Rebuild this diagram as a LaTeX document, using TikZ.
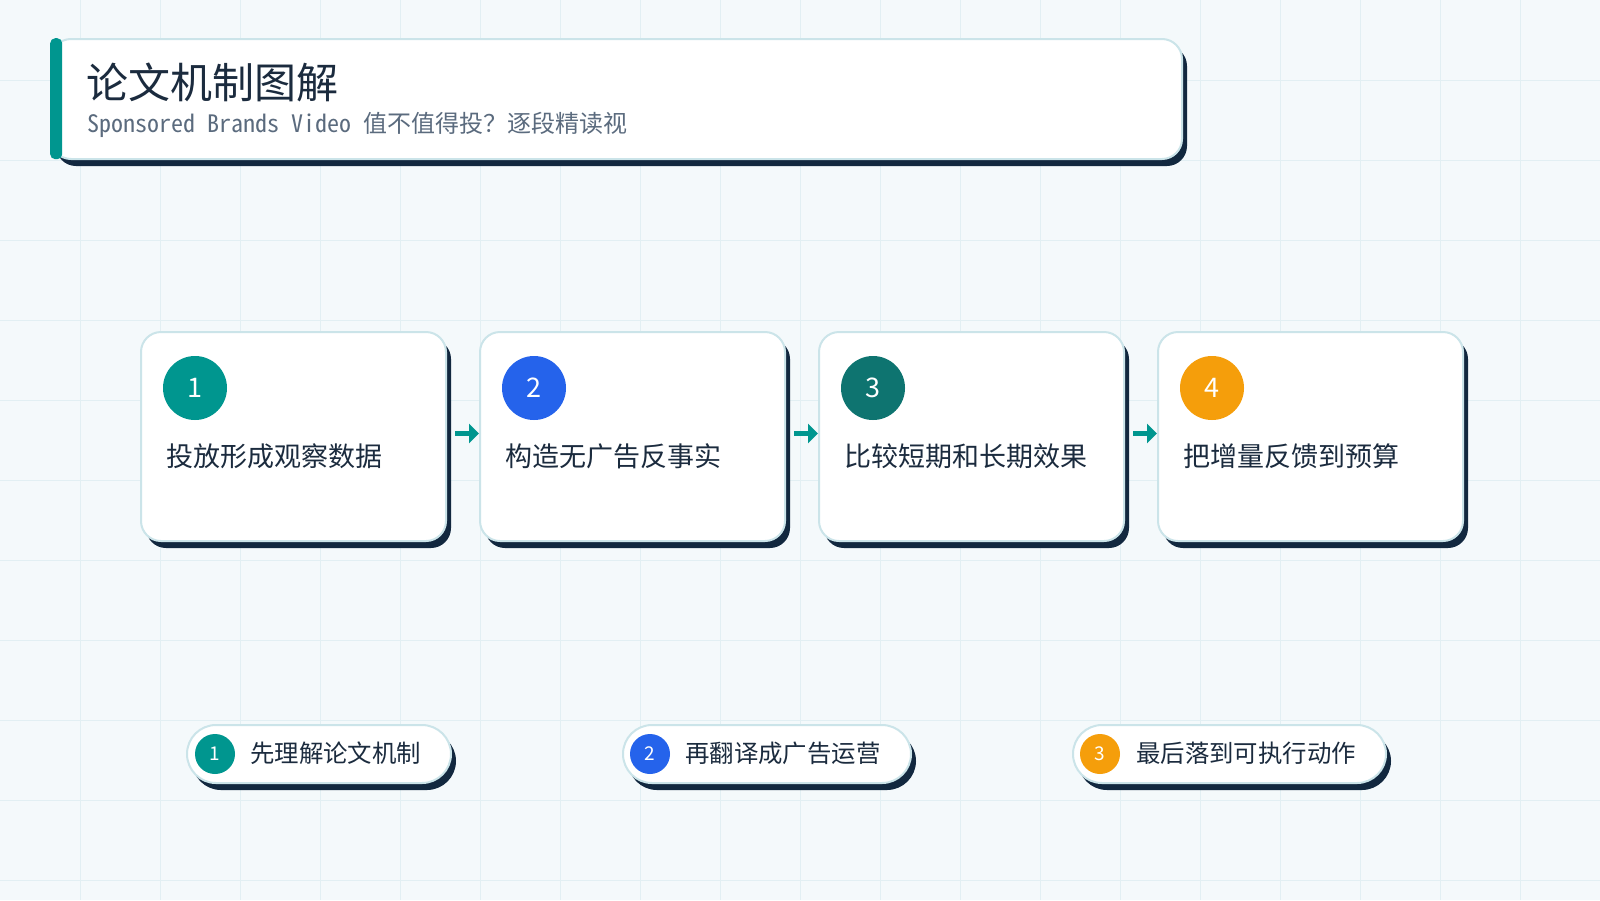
\documentclass[tikz,border=0pt]{standalone}
\usepackage{fontspec}
\setmainfont{Noto Sans CJK SC}
\newfontfamily\cjk{Noto Sans CJK SC}
\newfontfamily\cjkmono{Noto Sans Mono CJK SC}
\usetikzlibrary{shadows,arrows.meta}
\definecolor{bgc}{HTML}{F4F9FB}
\definecolor{gridc}{HTML}{E2EFF3}
\definecolor{navy}{HTML}{12283F}
\definecolor{edge}{HTML}{CBE4E9}
\definecolor{ink}{HTML}{1B2B3E}
\definecolor{subc}{HTML}{5B6B7E}
\definecolor{tealc}{HTML}{00968F}
\definecolor{bluec}{HTML}{2563EB}
\definecolor{dtealc}{HTML}{0E7470}
\definecolor{orangec}{HTML}{F59E0B}
\tikzset{
  shadowed/.style={drop shadow={shadow xshift=5pt,shadow yshift=-7pt,fill=navy,opacity=1}},
  card/.style={shadowed, draw=edge, line width=2pt, fill=white, rounded corners=20pt,
    minimum width=305, minimum height=209, anchor=north west, inner sep=0pt},
  pill/.style={shadowed, draw=edge, line width=2pt, fill=white, rounded corners=29pt,
    minimum height=58, anchor=west, inner sep=0pt},
  bignum/.style={circle, minimum size=64, inner sep=0pt, text=white, font=\cjk\fontsize{27}{30}\selectfont},
  smallnum/.style={circle, minimum size=40, inner sep=0pt, text=white, font=\cjk\fontsize{19}{22}\selectfont},
  cardtext/.style={anchor=west, inner sep=0pt, text=ink, font=\cjk\fontsize{27}{31}\selectfont},
  pilltext/.style={anchor=west, inner sep=0pt, text=ink, font=\cjk\fontsize{24.4}{28}\selectfont},
  flow/.style={draw=tealc, line width=5pt, -{Triangle[length=10pt,width=19pt]}}
}
\begin{document}
\begin{tikzpicture}[x=1pt,y=-1pt]
\fill[bgc] (0,0) rectangle (1600,900);
\useasboundingbox (0,0) rectangle (1600,900);
\foreach \x in {80,160,...,1520} \draw[gridc, line width=1pt] (\x,0) -- (\x,900);
\foreach \y in {80,160,...,880} \draw[gridc, line width=1pt] (0,\y) -- (1600,\y);

% title box
\node[shadowed, draw=edge, line width=2pt, fill=white, rounded corners=20pt,
  minimum width=1131, minimum height=120, anchor=north west, inner sep=0pt] (tbox) at (50,38) {};
\node[fill=tealc, rounded corners=5pt, minimum width=12, minimum height=121, inner sep=0pt,
  anchor=north west] (tbar) at (50,38) {};
\node[anchor=west, inner sep=0pt, text=ink, font=\cjk\fontsize{42}{50}\selectfont] (ttl) at (86,82) {论文机制图解};
\node[anchor=west, inner sep=0pt, text=subc, font=\cjkmono\fontsize{24}{28}\selectfont] (sub) at (87,125) {Sponsored Brands Video 值不值得投？逐段精读视};

% cards
\node[card] (c1) at (140,331) {};
\node[card] (c2) at (479,331) {};
\node[card] (c3) at (818,331) {};
\node[card] (c4) at (1157,331) {};

\draw[flow] ([xshift=8pt,yshift=3pt]c1.east) -- ([yshift=3pt]c2.west);
\draw[flow] ([xshift=8pt,yshift=3pt]c2.east) -- ([yshift=3pt]c3.west);
\draw[flow] ([xshift=8pt,yshift=3pt]c3.east) -- ([yshift=3pt]c4.west);

\node[bignum, fill=tealc] (n1) at (195,388) {1};
\node[bignum, fill=bluec] (n2) at (534,388) {2};
\node[bignum, fill=dtealc] (n3) at (873,388) {3};
\node[bignum, fill=orangec] (n4) at (1212,388) {4};

\node[cardtext] (t1) at (166,456) {投放形成观察数据};
\node[cardtext] (t2) at (505,456) {构造无广告反事实};
\node[cardtext] (t3) at (844,456) {比较短期和长期效果};
\node[cardtext] (t4) at (1183,456) {把增量反馈到预算};

% pills
\node[pill, minimum width=264] (p1) at (186,754) {};
\node[pill, minimum width=288] (p2) at (622,754) {};
\node[pill, minimum width=313] (p3) at (1072,754) {};

\node[smallnum, fill=tealc] (q1) at (215,754) {1};
\node[smallnum, fill=bluec] (q2) at (650,754) {2};
\node[smallnum, fill=orangec] (q3) at (1100,754) {3};

\node[pilltext] (s1) at (250,753) {先理解论文机制};
\node[pilltext] (s2) at (685,753) {再翻译成广告运营};
\node[pilltext] (s3) at (1136,753) {最后落到可执行动作};
\end{tikzpicture}
\end{document}
